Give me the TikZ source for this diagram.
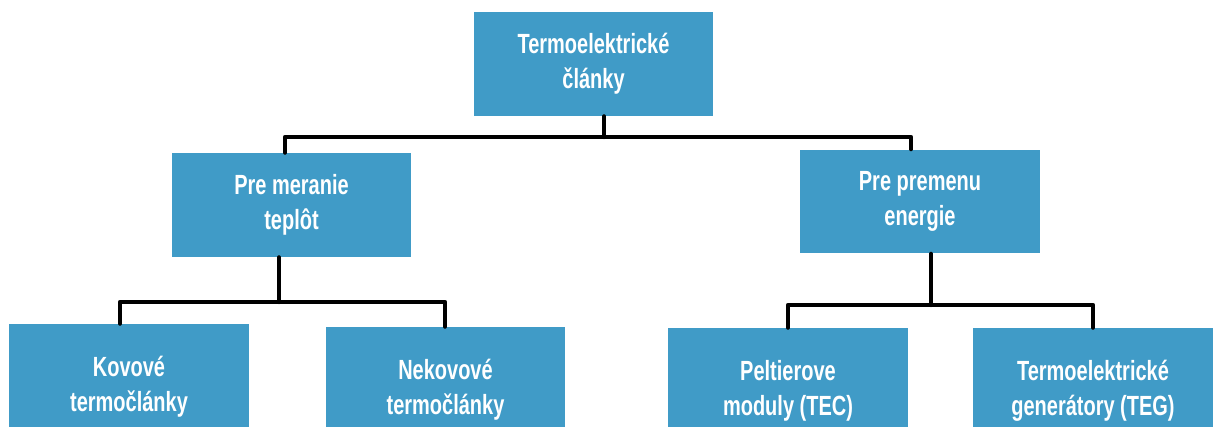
\documentclass[tikz,border=0pt]{standalone}
\usepackage{fontspec}
\newfontfamily\boxfont{Liberation Sans}[FakeStretch=0.72]
\usetikzlibrary{calc}
\definecolor{boxblue}{RGB}{64,155,199}

\begin{document}
\begin{tikzpicture}[x=0.02cm, y=-0.02cm,
    box/.style={fill=boxblue, draw=none, inner sep=0pt, align=center,
        text=white, minimum width=4.8cm, minimum height=2.08cm,
        font=\boxfont\bfseries\fontsize{15.8}{19.8}\selectfont},
    lowbox/.style={box, minimum height=2.52cm},
    conn/.style={line width=2.4pt, line cap=round, line join=round}]

    % 1. Page size of the reference
    \clip (0,0) rectangle (1217,426);

    % 2. Boxes
    \node[box] (top) at (593.5,64) {Termoelektrické\\články};
    \node[box] (meranie) at (291.5,205) {Pre meranie\\teplôt};
    \node[box] (premena) at (920,201.5) {Pre premenu\\energie};
    \node[lowbox] (kovove) at (129,387) {Kovové\\termočlánky};
    \node[lowbox] (nekovove) at (445.5,390) {Nekovové\\termočlánky};
    \node[lowbox] (peltier) at (788,391) {Peltierove\\moduly (TEC)};
    \node[lowbox] (teg) at (1093,391) {Termoelektrické\\generátory (TEG)};

    % 3. Bus lines
    \coordinate (busA) at (604,137);
    \coordinate (busAL) at (285,137);
    \coordinate (busAR) at (911,137);
    \coordinate (busB) at (279,302);
    \coordinate (busBL) at (120,302);
    \coordinate (busBR) at (445,302);
    \coordinate (busC) at (931,305);
    \coordinate (busCL) at (788,305);
    \coordinate (busCR) at (1093,305);

    % 4. Connectors
    \draw[conn] (top.south -| busA) -- (busA);
    \draw[conn] (meranie.north -| busAL) -- (busAL) -- (busAR) -- (premena.north -| busAR);

    \draw[conn] (meranie.south -| busB) -- (busB);
    \draw[conn] (kovove.north -| busBL) -- (busBL) -- (busBR) -- (nekovove.north -| busBR);

    \draw[conn] (premena.south -| busC) -- (busC);
    \draw[conn] (peltier.north -| busCL) -- (busCL) -- (busCR) -- (teg.north -| busCR);

\end{tikzpicture}
\end{document}
